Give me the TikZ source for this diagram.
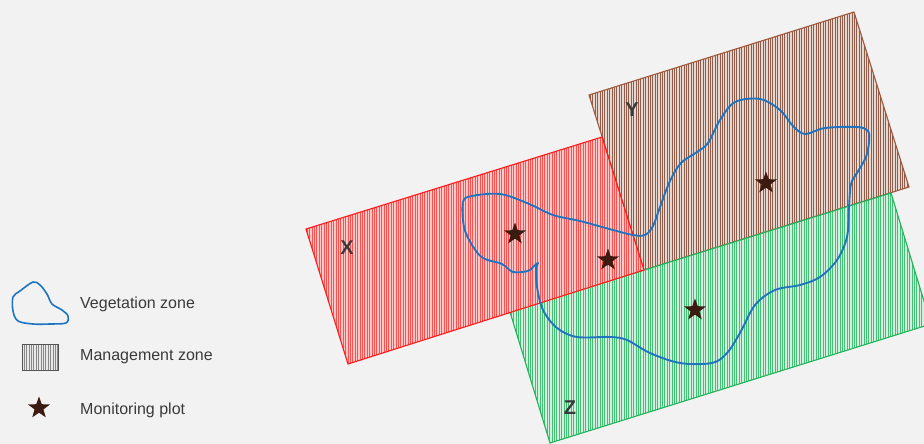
\documentclass[tikz,border=0pt]{standalone}
\usepackage{fontspec}
\setmainfont{Liberation Sans}[BoldFont={Liberation Sans Bold}]
\newfontfamily\zonefont{Liberation Sans Bold}
\newcommand{\zoneletter}[1]{{\zonefont\fontsize{20}{24}\selectfont #1}}
\usetikzlibrary{patterns.meta,shapes.geometric}

\definecolor{bg}{HTML}{F2F2F2}
\definecolor{txt}{HTML}{3A3A3A}
\definecolor{vegblue}{HTML}{1F74C0}
\definecolor{plotbrown}{HTML}{3B1B10}
\definecolor{xline}{HTML}{FF1A1A}
\definecolor{xfill}{HTML}{FFC8C8}
\definecolor{xhatch}{HTML}{FF5050}
\definecolor{yline}{HTML}{A0573A}
\definecolor{yfill}{HTML}{E6D8D1}
\definecolor{yhatch}{HTML}{8E5E4C}
\definecolor{zline}{HTML}{21B35A}
\definecolor{zfill}{HTML}{D3F0DE}
\definecolor{zhatch}{HTML}{45BF75}
\definecolor{mgline}{HTML}{555555}
\definecolor{mgfill}{HTML}{E8E8E8}
\definecolor{mghatch}{HTML}{888888}

\tikzset{
  zone/.style n args={3}{draw=#1, line width=1.1pt, line join=miter,
    preaction={fill=#2},
    pattern={Lines[angle=90,distance=2.4pt,line width=0.65pt]}, pattern color=#3},
  zonelabel/.style={text=txt, inner sep=0pt},
  plotstar/.style={star, star points=5, star point ratio=2.45, fill=plotbrown,
    draw=none, minimum size=23pt, inner sep=0pt},
  vegline/.style={draw=vegblue, line width=1.9pt, line cap=round, line join=round},
  legendtext/.style={text=txt, font=\fontsize{16}{19}\selectfont, anchor=west, inner sep=0pt}
}

\begin{document}
\begin{tikzpicture}[x=1pt,y=-1pt]
  % canvas
  \fill[bg] (0,0) rectangle (924,444);
  \useasboundingbox (0,0) rectangle (924,444);

  % corners of the three management zones
  \coordinate (y1) at (589,95);  \coordinate (y2) at (854,12);
  \coordinate (y3) at (909,187); \coordinate (y4) at (644,270);
  \coordinate (z1) at (510,312); \coordinate (z2) at (891,193);
  \coordinate (z3) at (931,324); \coordinate (z4) at (550,443);
  \coordinate (x1) at (306,229); \coordinate (x2) at (602,137);
  \coordinate (x3) at (644,270); \coordinate (x4) at (348,364);

  \begin{scope}
    \clip (0,0) rectangle (924,444);
    \path[zone={yline}{yfill}{yhatch}] (y1) -- (y2) -- (y3) -- (y4) -- cycle;
    \path[zone={zline}{zfill}{zhatch}] (z1) -- (z2) -- (z3) -- (z4) -- cycle;
    \path[zone={xline}{xfill}{xhatch}] (x1) -- (x2) -- (x3) -- (x4) -- cycle;
  \end{scope}

  % zone letters
  \node[zonelabel] (lx) at (347,248) {\zoneletter{X}};
  \node[zonelabel] (ly) at (632,110) {\zoneletter{Y}};
  \node[zonelabel] (lz) at (570,408) {\zoneletter{Z}};

  % vegetation zone outline
  \draw[vegline] plot[smooth cycle, tension=0.55] coordinates {
    (463,202) (472,196) (500,194) (527,203) (553,215) (580,221) (613,230)
    (633,235) (645,235) (653,226) (660,207) (670,181) (681,163) (697,152)
    (708,143) (720,120) (735,102) (760,99) (780,110) (793,126) (805,134)
    (825,128) (857,127) (868,131) (869,142) (866,157) (857,173) (851,184)
    (849,207) (847,237) (837,260) (820,277) (800,285) (775,290) (755,305)
    (740,333) (727,353) (712,363) (680,363) (650,353) (627,340) (610,337)
    (577,337) (557,328) (543,310) (537,287) (536,269) (538,263) (533,267)
    (528,271) (513,272) (502,264) (483,258) (472,245) (464,227)};

  % monitoring plots
  \node[plotstar] (p1) at (515,234) {};
  \node[plotstar] (p2) at (608,260) {};
  \node[plotstar] (p3) at (766,183) {};
  \node[plotstar] (p4) at (695,310) {};

  % legend
  \draw[vegline, line width=1.6pt] plot[smooth cycle, tension=0.55] coordinates {
    (13,297) (20,291) (33,282) (40,285) (47,294) (52,304) (62,310)
    (68,316) (66,323) (50,324) (33,324) (18,321) (13,311)};
  \node[legendtext] (t1) at (80,304) {Vegetation zone};

  \path[draw=mgline, line width=1pt, preaction={fill=mgfill},
    pattern={Lines[angle=90,distance=2.4pt,line width=0.6pt]}, pattern color=mghatch]
    (22,344) rectangle (58,370);
  \node[legendtext] (t2) at (80,357) {Management zone};

  \node[plotstar] (ps) at (39,408) {};
  \node[legendtext] (t3) at (80,410) {Monitoring plot};
\end{tikzpicture}
\end{document}
